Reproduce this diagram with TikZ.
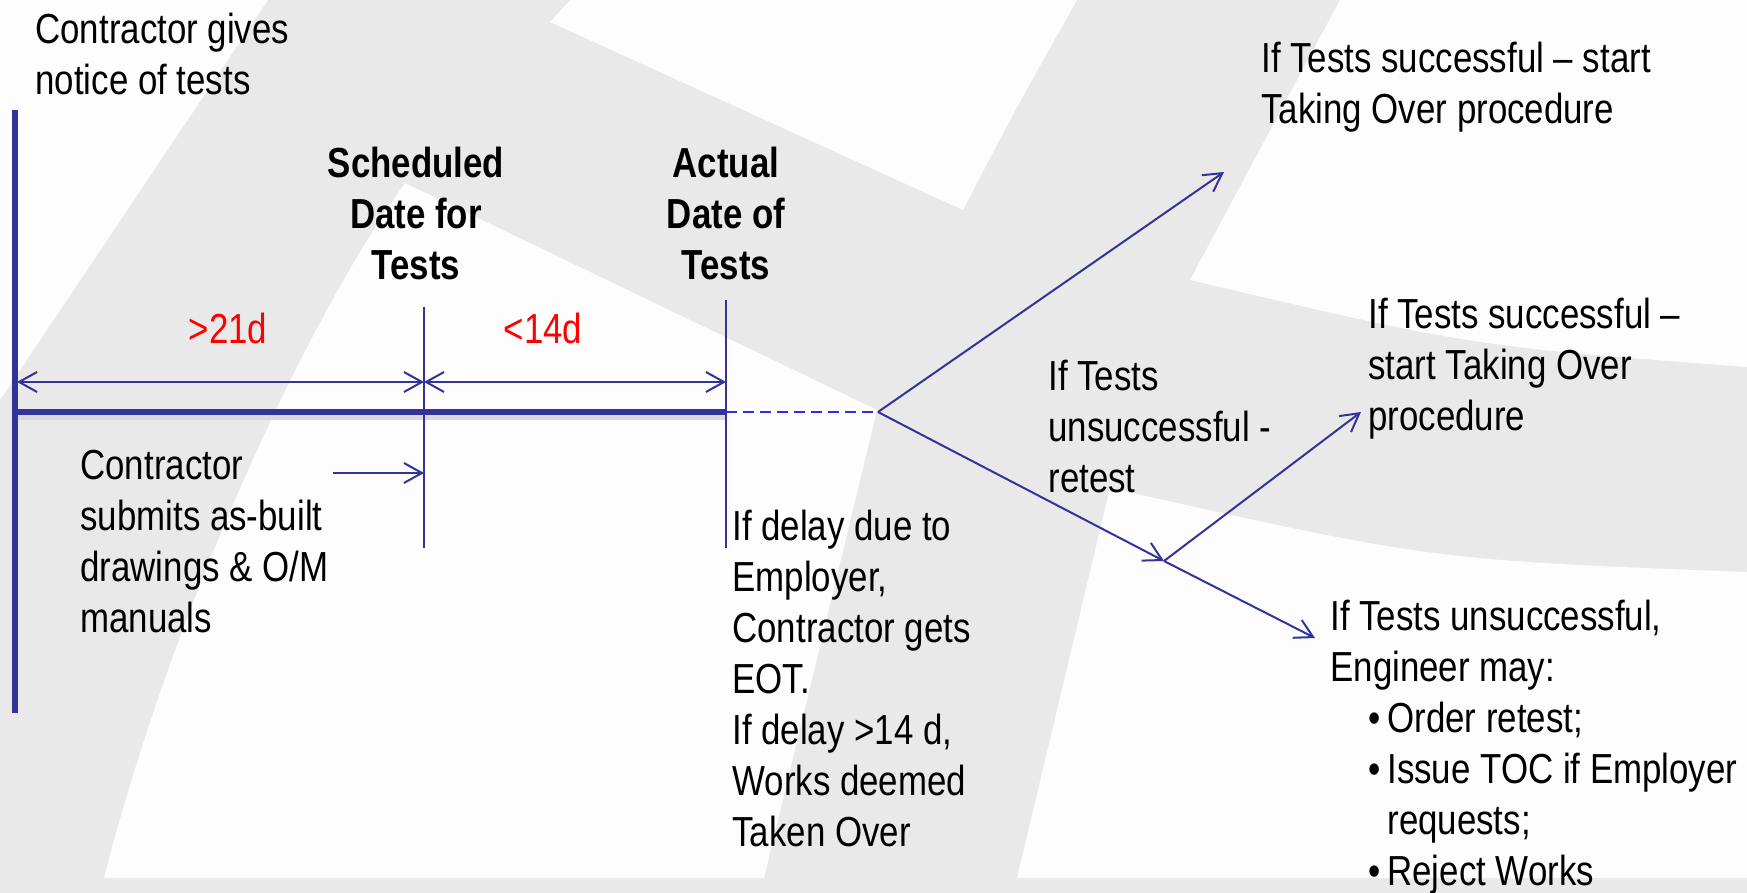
\documentclass[tikz,border=0pt]{standalone}
\usepackage{fontspec}
\setmainfont{Liberation Sans}[FakeStretch=0.83]
\usetikzlibrary{arrows.meta}
\definecolor{lineblue}{RGB}{51,51,153}
\definecolor{dashblue}{RGB}{45,45,235}
\definecolor{bggrey}{RGB}{233,233,233}
\definecolor{bgwhite}{RGB}{253,253,253}
\newcommand{\bul}{\makebox[28.5pt][r]{\textbullet\hspace{3.5pt}}}
\tikzset{
  lbl/.style={inner sep=0pt,anchor=north west,align=left,font=\fontsize{21}{25.5}\selectfont},
  head/.style={lbl,anchor=north,align=center,font=\fontsize{21}{25.5}\selectfont\bfseries},
  days/.style={lbl,anchor=north,text=red},
  bline/.style={color=lineblue,line width=1pt},
  heavy/.style={color=lineblue,line width=2.6pt},
  barb/.style={-{Straight Barb[length=9pt,width=10pt]}},
  barbs/.style={arrows={Straight Barb[length=9pt,width=10pt]-Straight Barb[length=9pt,width=10pt]}}
}
\begin{document}
\begin{tikzpicture}[x=0.5pt,y=-0.5pt]
\useasboundingbox (0,0) rectangle (1747,893);
% background
\fill [bggrey](0,0) rectangle (1747,893);
\fill [bgwhite](0,0) -- (268,0) -- (0,400) -- cycle;
\fill [bgwhite](570,0) -- (550,22) -- (963,210) .. controls (1015,110) .. (1077,0) -- cycle;
\fill [bgwhite](1340,0) -- (1190,280) .. controls (1471,346) .. (1747,367) -- (1747,0) -- cycle;
\fill [bgwhite](405,183) -- (877,410) -- (764,878) -- (104,878) .. controls (170,620) and (300,330) .. (405,183) -- cycle;
\fill [bgwhite](1110,488) .. controls (1431,560) .. (1747,572) -- (1747,878) -- (1017,878) -- cycle;
% time line
\coordinate (top) at (15,110);
\coordinate (bot) at (15,713);
\coordinate (t0) at (15,412);
\coordinate (tend) at (726,412);
\coordinate (sd1) at (424,307);
\coordinate (sd2) at (424,548);
\coordinate (ad1) at (726,300);
\coordinate (ad2) at (726,548);
\coordinate (d0) at (17,382);
\coordinate (d1) at (424,382);
\coordinate (d2) at (726,382);
\coordinate (sub0) at (333,473);
\coordinate (sub1) at (424,473);
\coordinate (fork) at (878,412);
\coordinate (up) at (1224,172);
\coordinate (fork2) at (1164,561);
\coordinate (up2) at (1361,412);
\coordinate (down2) at (1315,638);
\draw [color=black!15,line width=2.6pt](17,417) -- (726,417);
\draw [heavy](top) -- (bot);
\draw [heavy](t0) -- (tend);
\draw [bline](sd1) -- (sd2);
\draw [bline](ad1) -- (ad2);
\draw [bline,barbs](d0) -- (d1);
\draw [bline,barbs](d1) -- (d2);
\draw [bline,barb](sub0) -- (sub1);
\draw [color=dashblue,line width=1pt,dash pattern=on 5.5pt off 3pt](tend) -- (fork);
\draw [bline,barb](fork) -- (up);
\draw [bline,barb](fork) -- (fork2);
\draw [bline,barb](fork2) -- (up2);
\draw [bline,barb](fork2) -- (down2);
% labels
\node [lbl] (notice) at (35,13) {Contractor gives\\notice of tests};
\node [head] (sched) at (416,147) {Scheduled\\Date for\\Tests};
\node [head] (actual) at (726,147) {Actual\\Date of\\Tests};
\node [days] (gt21) at (228,313) {>21d};
\node [days] (lt14) at (543,313) {<14d};
\node [lbl] (submit) at (80,450) {Contractor\\submits as-built\\drawings \& O/M\\manuals};
\node [lbl] (delay) at (732,510) {If delay due to\\Employer,\\Contractor gets\\EOT.\\If delay >14 d,\\Works deemed\\Taken Over};
\node [lbl] (retest) at (1048,360) {If Tests\\unsuccessful -\\retest};
\node [lbl] (pass1) at (1261,42) {If Tests successful -- start\\Taking Over procedure};
\node [lbl] (pass2) at (1368,298) {If Tests successful --\\start Taking Over\\procedure};
\node [lbl] (fail) at (1330,600) {If Tests unsuccessful,\\Engineer may:\\\bul Order retest;\\\bul Issue TOC if Employer\\\hspace*{28.5pt}requests;\\\bul Reject Works};
\end{tikzpicture}
\end{document}
